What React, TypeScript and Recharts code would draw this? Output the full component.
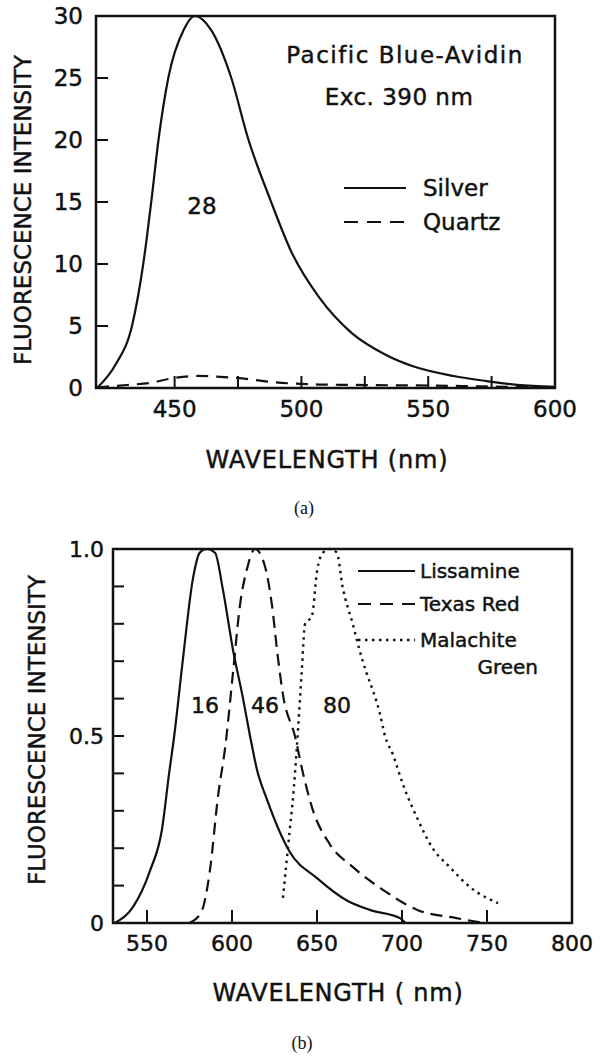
import { LineChart, Line, XAxis, YAxis, ReferenceArea } from 'recharts'

// panel (a): Pacific Blue-Avidin, exc. 390 nm
const silverNm = [419.4, 426.6, 433.3, 437.7, 440.9, 443.7, 447.6, 453.6, 458, 464.3, 472.2, 479, 487.7, 496, 507, 520, 533, 544, 560, 573, 585, 600]
const silverVal = [0, 1.85, 5.1, 10.1, 15.2, 20.1, 25.1, 28.9, 30, 28.9, 25.1, 20.1, 15.2, 11.0, 7.3, 4.4, 2.7, 1.75, 0.97, 0.56, 0.25, 0.1]
const quartzNm = [419.4, 431, 440, 449.6, 459, 468, 479, 485, 507, 520, 536, 550, 566, 580, 600]
const quartzVal = [0.05, 0.24, 0.4, 0.8, 0.97, 0.9, 0.72, 0.56, 0.28, 0.25, 0.22, 0.2, 0.15, 0.1, 0.05]

const topXTicks = [450, 475, 500, 525, 550, 575, 600]
const topXLabels = [450, 500, 550, 600]
const topYTicks = [0, 5, 10, 15, 20, 25, 30]

// panel (b): normalized spectra
const lissNm = [531, 541.8, 551.8, 558.8, 563, 566, 571, 577, 581, 585, 590, 594.7, 600.6, 606.5, 610.6, 614.7, 620.6, 634, 650, 667.6, 681, 698.8, 702]
const lissVal = [0, 0.043, 0.14, 0.25, 0.4, 0.5, 0.7, 0.92, 0.99, 1.0, 0.99, 0.89, 0.73, 0.6, 0.5, 0.41, 0.33, 0.19, 0.12, 0.06, 0.035, 0.013, 0]
const texasNm = [575, 582, 587, 591.8, 596, 600.6, 604.7, 609, 613.5, 619, 623.5, 627, 630, 637, 641.8, 647, 657.6, 671, 689, 709, 732, 748]
const texasVal = [0, 0.03, 0.14, 0.34, 0.47, 0.67, 0.85, 0.95, 1.0, 0.96, 0.85, 0.71, 0.61, 0.5, 0.4, 0.31, 0.21, 0.15, 0.088, 0.035, 0.013, 0]
const malaNm = [630, 632, 634, 636, 638, 641, 643, 647, 650, 653.5, 657.6, 661.7, 665, 671, 675, 679, 683, 687, 690, 694.7, 700.6, 709, 718, 728, 740, 756.5]
const malaVal = [0.067, 0.16, 0.25, 0.34, 0.46, 0.67, 0.8, 0.82, 0.94, 0.99, 1.0, 0.99, 0.9, 0.8, 0.73, 0.67, 0.62, 0.56, 0.5, 0.45, 0.37, 0.28, 0.2, 0.15, 0.096, 0.053]

const botXTicks = [550, 600, 650, 700, 750, 800]
const botYTicks = [0, 0.1, 0.2, 0.3, 0.4, 0.5, 0.6, 0.7, 0.8, 0.9, 1]
const botYLabels: Record<string, string> = { '0': '0', '0.5': '0.5', '1': '1.0' }

const zip = (xs: number[], ys: number[]) => xs.map((nm, i) => ({ nm, v: ys[i] }))

const INK = '#111'
const FONT = '"DejaVu Sans", sans-serif'
const HEAVY = 0.45 // thin outline so the lettering reads as heavy as the scan

function leftTick(len: number, gap: number, size: number, label: (v: number) => string) {
  return (props: any) => {
    const { x, y, payload } = props
    const text = label(payload.value)
    return (
      <g>
        <line x1={x} x2={x + len} y1={y} y2={y} stroke={INK} strokeWidth={2} />
        {text && (
          <text x={x - gap} y={y} textAnchor="end" dominantBaseline="central" fontSize={size} fontFamily={FONT}
            fill={INK} stroke={INK} strokeWidth={HEAVY}>
            {text}
          </text>
        )}
      </g>
    )
  }
}

function bottomTick(len: number, gap: number, size: number, label: (v: number) => string) {
  return (props: any) => {
    const { x, y, payload } = props
    const text = label(payload.value)
    return (
      <g>
        <line x1={x} x2={x} y1={y} y2={y - len} stroke={INK} strokeWidth={2} />
        {text && (
          <text x={x} y={y + gap} textAnchor="middle" dominantBaseline="central" fontSize={size} fontFamily={FONT}
            fill={INK} stroke={INK} strokeWidth={HEAVY}>
            {text}
          </text>
        )}
      </g>
    )
  }
}

function PanelA() {
  return (
    <LineChart width={600} height={440} margin={{ top: 16, right: 45, left: 0, bottom: 0 }}>
      <XAxis type="number" dataKey="nm" domain={[419, 600]} ticks={topXTicks} interval={0} height={52}
        axisLine={false} tickLine={false} tickSize={0} tickMargin={0} allowDataOverflow
        tick={bottomTick(12, 21, 23, (v) => (topXLabels.includes(v) ? String(v) : ''))} />
      <YAxis type="number" domain={[0, 30]} ticks={topYTicks} interval={0} width={96}
        axisLine={false} tickLine={false} tickSize={0} tickMargin={0}
        tick={leftTick(12, 13, 23, (v) => String(v))} />
      <ReferenceArea x1={419} x2={600} y1={0} y2={30} fill="none" stroke={INK} strokeWidth={2.5} />
      <Line data={zip(quartzNm, quartzVal)} dataKey="v" type="monotone" stroke={INK} strokeWidth={2.2}
        strokeDasharray="12 8" dot={false} isAnimationActive={false} />
      <Line data={zip(silverNm, silverVal)} dataKey="v" type="monotone" stroke={INK} strokeWidth={2.2}
        dot={false} isAnimationActive={false} />
    </LineChart>
  )
}

function PanelB() {
  return (
    <LineChart width={600} height={480} margin={{ top: 49, right: 28, left: 0, bottom: 0 }}>
      <XAxis type="number" dataKey="nm" domain={[530, 800]} ticks={botXTicks} interval={0} height={57}
        axisLine={false} tickLine={false} tickSize={0} tickMargin={0} allowDataOverflow
        tick={bottomTick(13, 20, 22, (v) => String(v))} />
      <YAxis type="number" domain={[0, 1]} ticks={botYTicks} interval={0} width={113}
        axisLine={false} tickLine={false} tickSize={0} tickMargin={0}
        tick={leftTick(11, 9, 22, (v) => botYLabels[String(v)] ?? '')} />
      <ReferenceArea x1={530} x2={800} y1={0} y2={1} fill="none" stroke={INK} strokeWidth={2.5} />
      <Line data={zip(lissNm, lissVal)} dataKey="v" type="monotone" stroke={INK} strokeWidth={2.2}
        dot={false} isAnimationActive={false} />
      <Line data={zip(texasNm, texasVal)} dataKey="v" type="monotone" stroke={INK} strokeWidth={2.2}
        strokeDasharray="12 7" dot={false} isAnimationActive={false} />
      <Line data={zip(malaNm, malaVal)} dataKey="v" type="monotone" stroke={INK} strokeWidth={2.4}
        strokeDasharray="2.5 4.5" dot={false} isAnimationActive={false} />
    </LineChart>
  )
}

function Txt({ x, y, children, size = 23, anchor = 'start', rotate = false, spacing = 0, serif = false }: any) {
  return (
    <text x={x} y={y} textAnchor={anchor} dominantBaseline="central" fontSize={size}
      fontFamily={serif ? '"Liberation Serif", serif' : FONT} fill={INK}
      stroke={serif ? 'none' : INK} strokeWidth={HEAVY} letterSpacing={spacing}
      transform={rotate ? `rotate(-90 ${x} ${y})` : undefined}>
      {children}
    </text>
  )
}

export default function App() {
  return (
    <div style={{ position: 'absolute', left: 0, top: 0, width: 600, height: 1056, background: '#fff' }}>
      <div style={{ position: 'absolute', left: 0, top: 0 }}>
        <PanelA />
      </div>
      <div style={{ position: 'absolute', left: 0, top: 500 }}>
        <PanelB />
      </div>
      <svg width={600} height={1056} style={{ position: 'absolute', left: 0, top: 0, pointerEvents: 'none' }}>
        {/* panel (a) */}
        <Txt x={23} y={210} anchor="middle" rotate>FLUORESCENCE INTENSITY</Txt>
        <Txt x={327} y={460} size={24} anchor="middle" spacing={0.8}>WAVELENGTH (nm)</Txt>
        <Txt x={304} y={508} size={18} anchor="middle" serif>(a)</Txt>
        <Txt x={405} y={55} anchor="middle" spacing={1.5}>Pacific  Blue-Avidin</Txt>
        <Txt x={399} y={97} anchor="middle" spacing={0.5}>Exc. 390 nm</Txt>
        <line x1={344} x2={406} y1={188} y2={188} stroke={INK} strokeWidth={2.2} />
        <Txt x={423} y={188}>Silver</Txt>
        <line x1={344} x2={406} y1={222} y2={222} stroke={INK} strokeWidth={2.2} strokeDasharray="14 9" />
        <Txt x={423} y={222}>Quartz</Txt>
        <Txt x={202} y={206} anchor="middle">28</Txt>

        {/* panel (b) */}
        <Txt x={37} y={730} anchor="middle" rotate>FLUORESCENCE INTENSITY</Txt>
        <Txt x={338} y={993} size={24} anchor="middle" spacing={0.8}>WAVELENGTH ( nm)</Txt>
        <Txt x={302} y={1043} size={18} anchor="middle" serif>(b)</Txt>
        <line x1={358} x2={415} y1={571} y2={571} stroke={INK} strokeWidth={2.2} />
        <Txt x={420} y={571} size={20}>Lissamine</Txt>
        <line x1={358} x2={415} y1={604} y2={604} stroke={INK} strokeWidth={2.2} strokeDasharray="13 9" />
        <Txt x={420} y={604} size={20}>Texas Red</Txt>
        <line x1={358} x2={415} y1={640} y2={640} stroke={INK} strokeWidth={2.4} strokeDasharray="2.5 4.5" />
        <Txt x={420} y={640} size={20}>Malachite</Txt>
        <Txt x={538} y={667} size={20} anchor="end">Green</Txt>
        <Txt x={205} y={705} size={22} anchor="middle">16</Txt>
        <Txt x={265} y={705} size={22} anchor="middle">46</Txt>
        <Txt x={337} y={705} size={22} anchor="middle">80</Txt>
      </svg>
    </div>
  )
}
